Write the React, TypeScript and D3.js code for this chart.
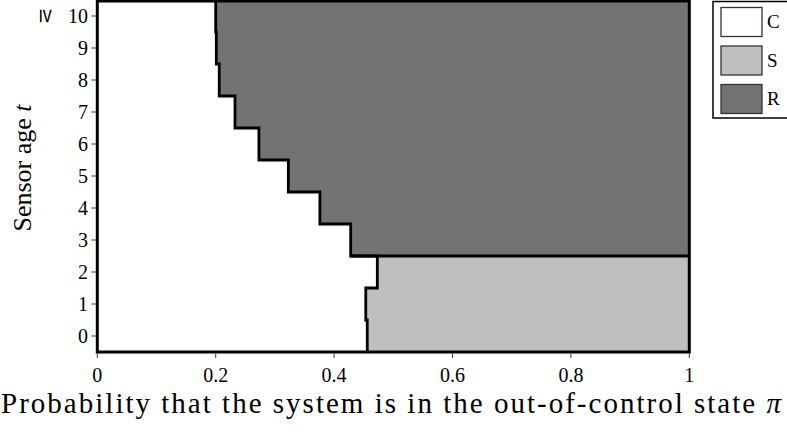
import React, { useEffect, useRef } from 'react';
import * as d3 from 'd3';

// sensor age t (0..10, where 10 means >= 10)
const ages = [0, 1, 2, 3, 4, 5, 6, 7, 8, 9, 10];
// largest pi for which the action is C (continue), per age
const thresholdC = [0.456, 0.4535, 0.473, 0.428, 0.376, 0.3227, 0.273, 0.2326, 0.206, 0.201, 0.2];
// action taken to the right of the threshold: S or R
const rightAction = ['S', 'S', 'S', 'R', 'R', 'R', 'R', 'R', 'R', 'R', 'R'];

const xTicks = [0, 0.2, 0.4, 0.6, 0.8, 1];
const yTickLabels = ['0', '1', '2', '3', '4', '5', '6', '7', '8', '9', '10'];
const legendItems = ['C', 'S', 'R'];
const colors: Record<string, string> = { C: '#ffffff', S: '#bfbfbf', R: '#737373' };

const App = () => {
  const svgRef = useRef<SVGSVGElement>(null);

  useEffect(() => {
    const svg = d3.select(svgRef.current);
    svg.selectAll('*').remove();

    const font = 'Liberation Serif';
    const x = d3.scaleLinear().domain([0, 1]).range([97.3, 689.3]);
    const y = d3.scaleLinear().domain([-0.5, 10.5]).range([352, 0]);

    const g = svg.append('g');

    // C region
    g.selectAll('rect.c')
      .data(ages)
      .enter()
      .append('rect')
      .attr('x', x(0))
      .attr('y', d => y(d + 0.5))
      .attr('width', (d, i) => x(thresholdC[i]) - x(0))
      .attr('height', d => y(d - 0.5) - y(d + 0.5) + 0.5)
      .attr('fill', colors.C);

    // S / R regions
    g.selectAll('rect.sr')
      .data(ages)
      .enter()
      .append('rect')
      .attr('x', (d, i) => x(thresholdC[i]))
      .attr('y', d => y(d + 0.5))
      .attr('width', (d, i) => x(1) - x(thresholdC[i]))
      .attr('height', d => y(d - 0.5) - y(d + 0.5) + 0.5)
      .attr('fill', (d, i) => colors[rightAction[i]]);

    // boundary between C and the rest
    const pts: [number, number][] = [];
    ages.forEach((t, i) => {
      pts.push([thresholdC[i], t - 0.5]);
      pts.push([thresholdC[i], t + 0.5]);
    });
    const line = d3.line<[number, number]>().x(d => x(d[0])).y(d => y(d[1]));
    g.append('path')
      .attr('d', line(pts))
      .attr('fill', 'none')
      .attr('stroke', '#000')
      .attr('stroke-width', 2.8);

    // boundary between S and R
    const firstR = rightAction.indexOf('R');
    g.append('path')
      .attr('d', line([[thresholdC[firstR], firstR - 0.5], [1, firstR - 0.5]]))
      .attr('stroke', '#000')
      .attr('stroke-width', 2.8);

    // frame
    g.append('rect')
      .attr('x', x(0))
      .attr('y', y(10.5) + 1)
      .attr('width', x(1) - x(0))
      .attr('height', y(-0.5) - y(10.5) - 1)
      .attr('fill', 'none')
      .attr('stroke', '#000')
      .attr('stroke-width', 3);

    // x axis
    const xa = g.append('g');
    xTicks.forEach(v => {
      xa.append('line')
        .attr('x1', x(v)).attr('x2', x(v))
        .attr('y1', y(-0.5) + 1.5).attr('y2', y(-0.5) + 6)
        .attr('stroke', '#000').attr('stroke-width', 0.8);
      xa.append('text')
        .attr('x', x(v))
        .attr('y', 382)
        .attr('text-anchor', 'middle')
        .attr('font-family', font)
        .attr('font-size', 20)
        .text(d3.format('~g')(v));
    });

    // y axis
    const ya = g.append('g');
    ages.forEach((t, i) => {
      ya.append('line')
        .attr('x1', x(0) - 1.5).attr('x2', x(0) - 6)
        .attr('y1', y(t)).attr('y2', y(t))
        .attr('stroke', '#000').attr('stroke-width', 0.8);
      ya.append('text')
        .attr('x', 88)
        .attr('y', y(t) + 7)
        .attr('text-anchor', 'end')
        .attr('font-family', font)
        .attr('font-size', 20)
        .text(yTickLabels[i]);
    });
    // the >= sign next to the top label
    ya.append('text')
      .attr('transform', `translate(${46}, ${y(10)}) rotate(90)`)
      .attr('text-anchor', 'middle')
      .attr('dy', '0.3em')
      .attr('font-family', 'DejaVu Serif')
      .attr('font-size', 20)
      .text('≥');

    // axis titles
    svg.append('text')
      .attr('transform', `translate(31, 168) rotate(-90)`)
      .attr('text-anchor', 'middle')
      .attr('font-family', font)
      .attr('font-size', 26)
      .html('Sensor age <tspan font-style="italic">t</tspan>');

    svg.append('text')
      .attr('x', 1)
      .attr('y', 413)
      .attr('textLength', 780)
      .attr('lengthAdjust', 'spacing')
      .attr('font-family', font)
      .attr('font-size', 29)
      .html('Probability that the system is in the out-of-control state <tspan font-style="italic">π</tspan>');

    // legend
    const lg = svg.append('g');
    lg.append('rect')
      .attr('x', 713).attr('y', 1.5)
      .attr('width', 80).attr('height', 116.5)
      .attr('fill', '#fff').attr('stroke', '#000').attr('stroke-width', 1.5);
    legendItems.forEach((k, i) => {
      lg.append('rect')
        .attr('x', 721).attr('y', 7.5 + i * 38.5)
        .attr('width', 41).attr('height', 29)
        .attr('fill', colors[k]).attr('stroke', '#333').attr('stroke-width', 1.3);
      lg.append('text')
        .attr('x', 767).attr('y', 28 + i * 38.5)
        .attr('font-family', font)
        .attr('font-size', 19)
        .text(k);
    });
  }, []);

  return (
    <svg
      ref={svgRef}
      width={787}
      height={433}
      style={{ position: 'absolute', left: 0, top: 0, background: '#fff' }}
    />
  );
};

export default App;
